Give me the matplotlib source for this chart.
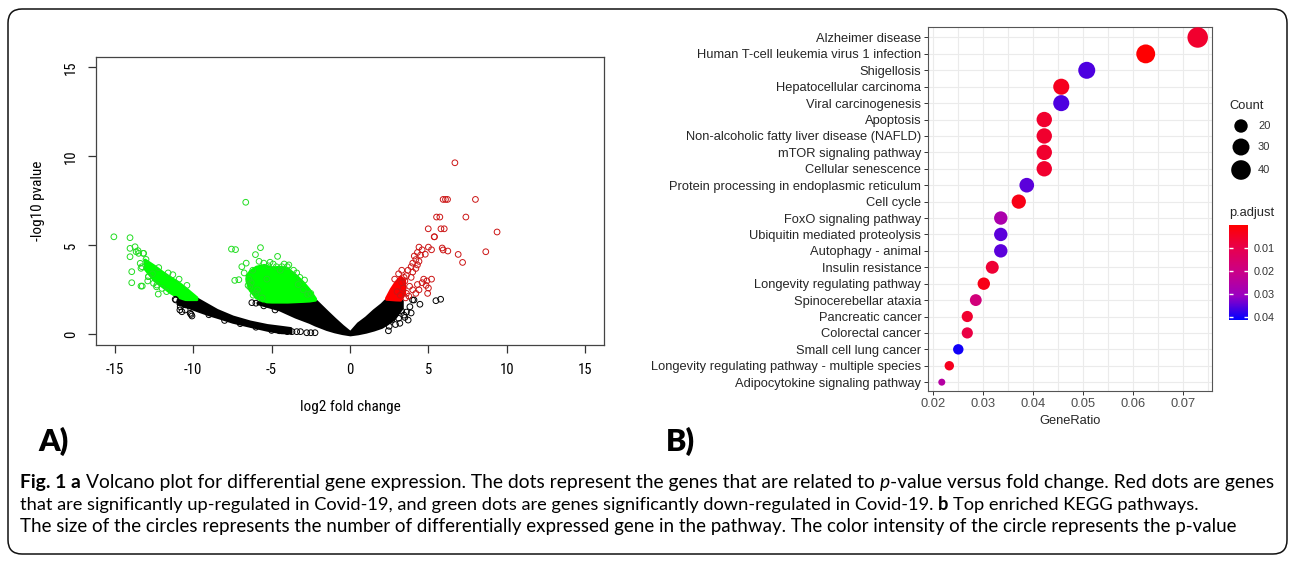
import numpy as np
import matplotlib
matplotlib.use('Agg')
import matplotlib.pyplot as plt
from matplotlib.colors import LinearSegmentedColormap, Normalize
from matplotlib.cm import ScalarMappable
from matplotlib.patches import FancyBboxPatch
from matplotlib import font_manager

plt.rcParams['axes.unicode_minus'] = False

# ---------------- volcano plot data ----------------
# dense regions (envelopes of the overlapping circles)
core_x  = [-5.9, -5.3, -4.5, -3.5, -2.6, -2.23, -1.5, -1.0, -0.5, 0.0, 0.5, 1.0, 1.5, 2.0, 2.34, 2.8, 3.3]
core_hi = [1.80, 1.83, 1.83, 1.85, 1.90, 1.93, 1.30, 0.88, 0.48, 0.12, 0.62, 0.95, 1.35, 1.70, 2.00, 2.00, 1.90]
core_lo = [1.75, 1.60, 1.40, 1.00, 0.70, 0.55, 0.30, 0.17, 0.07, 0.00, 0.06, 0.15, 0.27, 0.42, 0.60, 0.90, 1.50]

tail_x  = [-11.0, -10.5, -9.8, -9.0, -8.5, -7.5, -6.4, -5.3, -4.4, -3.8]
tail_hi = [1.95, 1.98, 2.02, 1.62, 1.37, 1.00, 0.72, 0.52, 0.42, 0.35]
tail_lo = [1.72, 1.60, 1.37, 1.12, 0.99, 0.71, 0.48, 0.26, 0.12, 0.10]

gl_x  = [-13.1, -12.5, -12.0, -11.5, -11.0, -10.5, -9.8]
gl_hi = [4.20, 3.85, 3.52, 3.22, 2.95, 2.60, 2.08]
gl_lo = [3.70, 3.05, 2.72, 2.38, 2.12, 1.98, 1.98]

gm_x  = [-6.6, -6.4, -6.0, -5.5, -5.0, -4.5, -4.0, -3.5, -3.0, -2.6, -2.23]
gm_hi = [3.30, 3.55, 3.80, 3.90, 3.75, 3.80, 3.70, 3.35, 2.92, 2.50, 2.02]
gm_lo = [3.00, 2.50, 2.08, 1.86, 1.84, 1.84, 1.84, 1.86, 1.88, 1.90, 1.95]

rd_x  = [2.30, 2.60, 2.90, 3.20, 3.45]
rd_hi = [2.05, 2.55, 2.95, 3.25, 3.05]
rd_lo = [2.00, 1.98, 1.96, 1.95, 2.30]

# single circles
green_x = [-15.06, -14.03, -14.03, -13.71, -13.64, -13.52, -14.03, -13.19, -13.38, -13.33, -13.92, -13.92,
           -13.33, -13.25, -12.86, -12.23, -12.34, -13.01, -13.48, -13.16, -13.27, -12.85, -12.32, -12.53,
           -11.99, -12.6, -12.9, -11.7, -11.3, -10.9, -10.4, -12.2, -11.6,
           -6.65, -7.56, -7.30, -5.71, -6.03, -4.62, -7.35, -7.09, -6.9, -6.62, -6.39, -6.18, -5.9, -5.3,
           -4.35, -4.45, -4.7, -5.2, -5.5, -2.7, -2.98, -3.3, -6.75, -6.45, -6.2, -5.8, -5.1, -4.9, -4.2,
           -3.9, -3.6, -3.2, -2.5, -6.0, -6.3, -3.4, -2.9, -4.0, -5.6, -6.5]
green_y = [5.48, 5.43, 4.83, 4.92, 4.64, 4.70, 4.36, 4.55, 3.99, 3.71, 3.52, 2.90,
           2.71, 2.71, 3.24, 2.26, 2.67, 4.21, 4.55, 4.55, 3.80, 3.24, 2.77, 2.87,
           2.58, 3.40, 3.00, 2.40, 3.35, 3.10, 2.75, 3.75, 3.45,
           7.42, 4.79, 4.76, 4.87, 4.48, 4.38, 3.03, 3.07, 3.80, 4.00, 2.66, 2.20, 2.50, 3.10,
           3.80, 3.60, 3.80, 3.85, 4.00, 2.25, 2.50, 2.80, 3.45, 3.10, 3.60, 4.10, 4.05, 3.95, 3.95,
           3.90, 3.60, 3.20, 2.30, 2.30, 2.90, 3.45, 3.05, 3.80, 2.05, 2.75]

red_x = [6.69, 5.94, 6.09, 6.22, 8.00, 5.52, 5.73, 7.39, 4.99, 5.80, 6.01, 5.37, 9.38, 8.66, 6.90,
         7.18, 5.88, 5.94, 6.24, 5.39,
         4.40, 4.60, 5.00, 5.20, 4.30, 4.50, 4.80, 4.10, 4.20, 4.00, 4.40, 3.90, 4.20, 3.70, 4.00,
         3.60, 3.90, 3.50, 4.30,
         4.70, 4.90, 5.20, 4.60, 4.85, 5.00, 4.95, 4.40, 4.20, 4.00, 3.80, 4.30, 3.60, 3.40, 3.30,
         3.10, 3.30, 3.20, 3.00, 3.45, 3.55, 2.85, 3.75]
red_y = [9.64, 7.58, 7.58, 7.58, 7.58, 6.59, 6.59, 6.59, 5.93, 5.93, 5.93, 5.48, 5.75, 4.64, 4.49,
         4.04, 4.85, 4.74, 4.68, 5.48,
         4.90, 4.75, 4.90, 4.75, 4.60, 4.45, 4.50, 4.40, 4.20, 4.00, 4.10, 3.80, 3.70, 3.60, 3.50,
         3.30, 3.20, 3.00, 3.90,
         3.10, 3.00, 3.10, 2.90, 2.75, 2.60, 2.30, 2.50, 2.30, 2.50, 2.70, 2.80, 2.30, 2.60, 2.90,
         3.40, 3.60, 2.20, 2.40, 3.20, 2.05, 3.10, 2.15]

black_x = [5.48, 5.78, 4.46, 3.99, 3.82, 3.71, 3.18, 3.44, 4.08, 2.66, 2.79, 3.50, 3.90, 3.30,
           3.60, 2.90, 2.50, 3.10, 3.00, 2.45,
           -11.15, -10.83, -10.51, -10.19, -10.08, -10.72, -10.85, -10.13, -11.11, -10.46,
           -6.26, -4.78, -5.50, -6.00,
           -4.0, -3.7, -3.4, -3.16, -2.76, -2.5, -2.23, -9.0, -8.0, -7.0, -6.0, -5.0, -4.5]
black_y = [1.89, 1.97, 1.69, 1.93, 1.55, 0.80, 0.62, 1.08, 1.93, 0.80, 1.18, 0.95, 1.20, 1.30,
           1.25, 0.55, 0.45, 0.90, 1.60, 0.20,
           1.97, 1.55, 1.37, 1.18, 1.03, 1.27, 1.37, 1.12, 1.93, 1.65,
           1.78, 1.37, 1.60, 1.75,
           0.15, 0.15, 0.15, 0.15, 0.09, 0.09, 0.09, 1.10, 0.78, 0.60, 0.40, 0.22, 0.20]

# ---------------- KEGG dot plot data ----------------
pathways = ['Alzheimer disease', 'Human T-cell leukemia virus 1 infection', 'Shigellosis',
            'Hepatocellular carcinoma', 'Viral carcinogenesis', 'Apoptosis',
            'Non-alcoholic fatty liver disease (NAFLD)', 'mTOR signaling pathway',
            'Cellular senescence', 'Protein processing in endoplasmic reticulum', 'Cell cycle',
            'FoxO signaling pathway', 'Ubiquitin mediated proteolysis', 'Autophagy - animal',
            'Insulin resistance', 'Longevity regulating pathway', 'Spinocerebellar ataxia',
            'Pancreatic cancer', 'Colorectal cancer', 'Small cell lung cancer',
            'Longevity regulating pathway - multiple species', 'Adipocytokine signaling pathway']
gene_ratio = [0.0729, 0.0625, 0.0507, 0.0456, 0.0456, 0.0422, 0.0422, 0.0422, 0.0422, 0.0387,
              0.0371, 0.0335, 0.0335, 0.0335, 0.0318, 0.0301, 0.0285, 0.0268, 0.0268, 0.0250,
              0.0232, 0.0217]
counts = [44, 37, 30, 27, 27, 25, 25, 25, 25, 23, 22, 20, 20, 20, 19, 18, 17, 16, 16, 15, 14, 13]
p_adjust = [0.006, 0.0002, 0.036, 0.004, 0.036, 0.006, 0.006, 0.006, 0.006, 0.035, 0.003, 0.027,
            0.035, 0.035, 0.007, 0.003, 0.018, 0.006, 0.009, 0.040, 0.004, 0.025]
count_breaks = [20, 30, 40]
p_breaks = [0.01, 0.02, 0.03, 0.04]

# ---------------- figure ----------------
W, H = 1295, 563
fig = plt.figure(figsize=(W / 100, H / 100), dpi=100)
names = {f.name for f in font_manager.fontManager.ttflist}
narrow = 'Liberation Sans'
for cand in ['Liberation Sans Narrow', 'DejaVu Sans Condensed', 'Roboto Condensed', 'Open Sans Condensed']:
    if cand in names:
        narrow = cand
        break
arial = 'Liberation Sans'
cap_font = 'Lato'

# volcano
ax1 = fig.add_axes([96 / W, 1 - 345 / H, 508 / W, 288.3 / H])
kw = dict(lw=2.2, joinstyle='round')
ax1.fill_between(tail_x, tail_lo, tail_hi, color='black', **kw)
ax1.fill_between(core_x, core_lo, core_hi, color='black', **kw)
ax1.fill_between(gl_x, gl_lo, gl_hi, color='#00FF00', **kw)
ax1.fill_between(gm_x, gm_lo, gm_hi, color='#00FF00', **kw)
ax1.fill_between(rd_x, rd_lo, rd_hi, color='#FF0000', **kw)
ax1.scatter(black_x, black_y, s=17, facecolors='none', edgecolors='black', linewidths=0.7)
ax1.scatter(green_x, green_y, s=17, facecolors='none', edgecolors='#22DD22', linewidths=0.7)
ax1.scatter(red_x, red_y, s=17, facecolors='none', edgecolors='#CC1515', linewidths=0.7)
ax1.set_xlim(-16.2, 16.2)
ax1.set_ylim(-0.6, 15.6)
ax1.set_xticks([-15, -10, -5, 0, 5, 10, 15])
ax1.set_yticks([0, 5, 10, 15])
ax1.set_yticklabels(['0', '5', '10', '15'], rotation=90, va='center')
for lab in ax1.get_xticklabels() + ax1.get_yticklabels():
    lab.set_fontfamily(narrow)
ax1.tick_params(length=6, width=0.9, color='#333333', labelsize=10.5, pad=7)
for s in ax1.spines.values():
    s.set_color('#444444')
    s.set_linewidth(0.9)
ax1.set_xlabel('log2 fold change', family=narrow, fontsize=11)
ax1.set_ylabel('-log10 pvalue', family=narrow, fontsize=11)
ax1.xaxis.set_label_coords(0.5, -0.19)
ax1.yaxis.set_label_coords(-0.10, 0.5)

# dot plot
n = len(pathways)
ypos = [n - 1 - i for i in range(n)]
cmap = LinearSegmentedColormap.from_list('rb', ['#FF0000', '#E7004F', '#C90089', '#9900C2', '#0000FF'])
norm = Normalize(vmin=0.0, vmax=0.0412)


def dot_area(c):
    d = 7 + 13.5 * np.sqrt((np.asarray(c, float) - 13) / (44 - 13))
    return (d * 0.72) ** 2


ax2 = fig.add_axes([928.3 / W, 1 - 390.7 / H, 283.4 / W, 363.4 / H])
ax2.set_axisbelow(True)
for gx in np.arange(0.02, 0.0751, 0.005):
    ax2.axvline(gx, color='#EBEBEB', lw=0.8, zorder=0)
for yy in ypos:
    ax2.axhline(yy, color='#EBEBEB', lw=0.8, zorder=0)
ax2.scatter(gene_ratio, ypos, s=dot_area(counts), c=p_adjust, cmap=cmap, norm=norm,
            edgecolors='none', zorder=3)
ax2.set_xlim(0.019, 0.0757)
ax2.set_ylim(-0.52, n - 1 + 0.62)
ax2.set_yticks(ypos)
ax2.set_yticklabels(pathways, family=arial, fontsize=9.3, color='#262626')
ax2.set_xticks([0.02, 0.03, 0.04, 0.05, 0.06, 0.07])
ax2.set_xticklabels(['0.02', '0.03', '0.04', '0.05', '0.06', '0.07'], family=arial,
                    fontsize=9.3, color='#4D4D4D')
ax2.tick_params(length=3, width=0.7, color='#333333', pad=2)
for s in ax2.spines.values():
    s.set_color('#555555')
    s.set_linewidth(0.8)
ax2.set_xlabel('GeneRatio', family=arial, fontsize=9.3, color='#262626', labelpad=4)

# colour bar
cax = fig.add_axes([1229 / W, 1 - 320 / H, 19 / W, 95 / H])
cb = fig.colorbar(ScalarMappable(norm=norm, cmap=cmap), cax=cax)
cax.invert_yaxis()
cb.set_ticks(p_breaks)
cb.set_ticklabels([f'{v:.2f}' for v in p_breaks])
cb.outline.set_visible(False)
cax.tick_params(axis='y', direction='in', length=3, width=1, color='white', left=True, right=True,
                labelsize=7.8, labelcolor='#333333', pad=4)
for lab in cax.get_yticklabels():
    lab.set_fontfamily(arial)

# overlay in pixel units for legend, labels, caption and border
lay = fig.add_axes([0, 0, 1, 1], zorder=5)
lay.set_xlim(0, W)
lay.set_ylim(H, 0)
lay.axis('off')

lay.text(1229, 106, 'Count', family=arial, fontsize=9.3, color='#262626', va='center')
for yy, c in zip([126, 147, 170], count_breaks):
    lay.scatter([1241], [yy], s=dot_area([c]), color='black', edgecolors='none')
    lay.text(1258, yy, str(c), family=arial, fontsize=8, color='#333333', va='center')
lay.text(1229, 213, 'p.adjust', family=arial, fontsize=9.3, color='#262626', va='center')

border = FancyBboxPatch((8, 9), 1279, 545, boxstyle='round,pad=0,rounding_size=14',
                        fc='none', ec='#111111', lw=1.1, transform=lay.transData)
lay.add_patch(border)
lay.text(38, 441, 'A)', family=cap_font, fontweight='heavy', fontsize=22, va='center')
lay.text(666, 441, 'B)', family=cap_font, fontweight='heavy', fontsize=22, va='center')

# caption with mixed styles
renderer = fig.canvas.get_renderer()
lines = [
    [('Fig. 1 a', 'b', False), ('Volcano plot for differential gene expression. The dots represent the genes that are related to', 'n', True),
     ('p', 'i', True), ('-value versus fold change. Red dots are genes', 'n', False)],
    [('that are significantly up-regulated in Covid-19, and green dots are genes significantly down-regulated in Covid-19.', 'n', False),
     ('b', 'b', True), ('Top enriched KEGG pathways.', 'n', True)],
    [('The size of the circles represents the number of differentially expressed gene in the pathway. The color intensity of the circle represents the p-value', 'n', False)],
]
line_ends = [1275, 1200, 1236]


def make(x, y, txt, style, size):
    return lay.text(x, y, txt, family=cap_font, fontsize=size,
                    fontweight='bold' if style == 'b' else 'normal',
                    fontstyle='italic' if style == 'i' else 'normal',
                    va='baseline', ha='left')


def width(txt, style, size):
    t = make(0, 0, txt, style, size)
    w = t.get_window_extent(renderer).width
    t.remove()
    return w


def line_width(runs, size):
    sp = width('x x', 'n', size) - width('xx', 'n', size)
    return sum(width(t, s, size) + (sp if b else 0) for t, s, b in runs)


for runs, y, xend in zip(lines, [488, 510, 532], line_ends):
    size = 11 * ((xend - 20) / line_width(runs, 11))
    sp = width('x x', 'n', size) - width('xx', 'n', size)
    x = 20
    for txt, style, before in runs:
        if before:
            x += sp
        t = make(x, y, txt, style, size)
        x += t.get_window_extent(renderer).width

fig.savefig('out.png', dpi=100)
